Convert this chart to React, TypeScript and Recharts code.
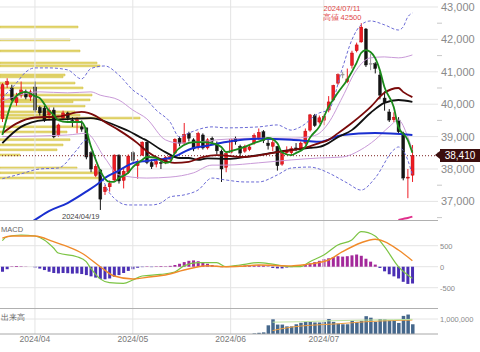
import React from 'react';
import { ComposedChart, BarChart, Bar, Line, XAxis, YAxis, CartesianGrid, ReferenceLine, Cell } from 'recharts';

// trading days shown: index 0 = 2024/03/21 ... index 88 = 2024/07/29, then 5 empty slots
const SLOTS = 94;
const monthTicks = [7, 28, 49, 69];
const monthLabels = ['2024/04', '2024/05', '2024/06', '2024/07'];

const opens = [
  39550, 40600, 40500, 40050, 40280, 40380, 40220, 40530, 39900, 39880,
  39670, 39820, 39050, 39575, 39730, 39500, 39450, 39300, 39270, 38500,
  37800, 37970, 37300, 37450, 37660, 38430, 37650, 37900, 38500, 38100,
  38430, 38830, 38200, 38150, 38200, 38200, 38300, 38490, 38950, 38800,
  39100, 38900, 38680, 39050, 38650, 38950, 38750, 38550, 38050, 38500,
  38950, 38700, 38550, 38600, 38800, 38960, 39150, 38800, 38700, 38700,
  38150, 38500, 38500, 38650, 38600, 38800, 39200, 39650, 39450, 39500,
  39820, 40130, 40650, 40930, 40700, 41200, 41650, 41920, 42320, 41260,
  41250, 40900, 40190, 39760, 39520, 39510, 39110, 37720, 37810,
];
const highs = [
  40650, 40800, 40600, 40350, 40700, 40450, 40450, 40700, 39950, 39950,
  39900, 39900, 39400, 39800, 39770, 39600, 39600, 39500, 39270, 38550,
  38150, 38000, 37500, 37650, 38450, 38450, 38000, 38450, 38550, 38300,
  38850, 38850, 38300, 38350, 38300, 38400, 38450, 38950, 39000, 39420,
  39150, 38950, 39150, 39100, 38950, 39000, 38850, 38600, 38550, 38950,
  39000, 38750, 38750, 38750, 39100, 39250, 39200, 38900, 38900, 38700,
  38500, 38700, 38700, 38800, 38850, 39250, 39700, 39700, 39650, 39700,
  40250, 40600, 40950, 41000, 41100, 41650, 41900, 42500, 42350, 41550,
  41300, 41000, 40400, 39850, 39750, 39600, 39150, 38000, 38740,
];
const lows = [
  39450, 40500, 40100, 39950, 40200, 40150, 40100, 39750, 39650, 39450,
  39500, 38950, 39000, 39500, 39500, 39300, 39100, 39150, 38300, 37900,
  37750, 36735, 37200, 37300, 37600, 37550, 37400, 37850, 38150, 37700,
  38400, 38150, 38000, 38050, 38000, 38150, 38200, 38450, 38700, 38750,
  38850, 38550, 38600, 38600, 38600, 38750, 38450, 37600, 37900, 38450,
  38750, 38400, 38500, 38550, 38750, 38900, 38800, 38600, 38550, 37950,
  38100, 38450, 38400, 38550, 38550, 38750, 39150, 39300, 39400, 39350,
  39750, 40100, 40600, 40800, 40650, 41100, 41600, 41900, 41150, 41050,
  40950, 40150, 39800, 39450, 39450, 39100, 37650, 37100, 37600,
];
const closes = [
  40600, 40700, 40150, 40200, 40440, 40220, 40380, 39820, 39730, 39510,
  39820, 38990, 39360, 39730, 39580, 39440, 39520, 39230, 38370, 38000,
  38080, 37070, 37440, 37550, 38430, 37630, 37930, 38400, 38270, 38240,
  38830, 38200, 38070, 38230, 38180, 38360, 38390, 38920, 38790, 39070,
  38950, 38620, 39100, 38650, 38900, 38860, 38560, 38000, 38480, 38920,
  38840, 38490, 38700, 38680, 39040, 39130, 38880, 38720, 38810, 38100,
  38480, 38570, 38630, 38600, 38800, 39170, 39670, 39340, 39580, 39630,
  40070, 40580, 40910, 40930, 40780, 41580, 41830, 42380, 41210, 41260,
  41100, 40280, 40050, 39510, 39600, 39150, 37720, 37750, 38410,
];

// moving averages and bands as [day index, price]
const ma5Pts = [[0, 39050], [1, 39600], [2, 40040], [4, 40350], [5, 40380], [7, 40250], [8, 40190], [10, 39800], [11, 39670], [12, 39510], [14, 39450], [17, 39450], [18, 39200], [19, 38700], [20, 38300], [21, 37950], [23, 37600], [24, 37600], [25, 37720], [27, 37880], [28, 38060], [30, 38280], [31, 38370], [33, 38340], [35, 38190], [36, 38220], [37, 38490], [39, 38740], [41, 38830], [43, 38830], [45, 38800], [47, 38680], [48, 38520], [50, 38590], [52, 38680], [54, 38800], [56, 38900], [57, 38960], [59, 38800], [60, 38520], [62, 38430], [63, 38490], [65, 38680], [66, 38960], [68, 39300], [70, 39910], [72, 40350], [74, 40750], [76, 41270], [77, 41580], [78, 41670], [79, 41610], [80, 41430], [81, 41060], [82, 40530], [84, 39910], [85, 39300], [87, 38900], [88, 38500]];
const ma25Pts = [[0, 39100], [3, 39400], [7, 39590], [12, 39620], [17, 39760], [20, 39640], [22, 39450], [25, 39200], [29, 38800], [31, 38550], [34, 38300], [37, 38190], [40, 38220], [43, 38370], [46, 38430], [52, 38370], [59, 38520], [66, 38700], [68, 38800], [70, 38900], [72, 39100], [75, 39420], [79, 39910], [82, 40350], [85, 40500], [86, 40380], [88, 40220]];
const ma13Pts = [[0, 38800], [4, 39300], [9, 39510], [14, 39540], [19, 39570], [23, 39420], [25, 39300], [27, 39180], [30, 38950], [31, 38880], [34, 38600], [35, 38520], [38, 38340], [40, 38340], [42, 38280], [44, 38330], [48, 38310], [55, 38430], [62, 38590], [66, 38650], [68, 38680], [70, 38800], [72, 38980], [75, 39200], [79, 39730], [82, 40040], [85, 40130], [88, 40070]];
const ma75Pts = [[5, 36250], [7, 36430], [10, 36700], [14, 36950], [18, 37300], [21, 37600], [22, 37720], [25, 37950], [28, 38180], [31, 38250], [34, 38300], [36, 38340], [41, 38650], [44, 38720], [48, 38830], [55, 38930], [62, 38900], [66, 38860], [68, 38840], [73, 39050], [80, 39110], [88, 39050]];
const bbUp2Pts = [[0, 40200], [3, 40650], [5, 40990], [7, 41120], [10, 41120], [14, 41060], [17, 40780], [19, 41100], [22, 41180], [25, 40900], [28, 40440], [31, 40130], [33, 39820], [36, 39450], [38, 38990], [40, 39110], [45, 39300], [48, 39270], [55, 39300], [59, 39360], [62, 39200], [64, 39300], [68, 39730], [70, 39820], [73, 41120], [75, 41980], [77, 42450], [79, 42570], [82, 42450], [85, 42290], [86, 42380], [87, 42690], [88, 42815]];
const bbLo2Pts = [[0, 37700], [4, 37850], [8, 38000], [12, 38030], [16, 38590], [18, 38900], [19, 38700], [21, 37900], [23, 37260], [27, 36890], [32, 36890], [34, 36950], [36, 37140], [39, 37200], [42, 37350], [45, 37720], [48, 37660], [52, 37600], [55, 37600], [59, 37815], [62, 38030], [66, 38060], [68, 38000], [70, 37880], [74, 37570], [77, 37350], [80, 37720], [84, 38590], [85, 38680], [87, 38280], [88, 37815]];
const bbUp1Pts = [[0, 40100], [8, 40380], [14, 40350], [19, 40380], [21, 40280], [25, 40130], [28, 39820], [31, 39550], [35, 38900], [38, 38800], [42, 38830], [46, 38900], [55, 38950], [62, 38950], [66, 39000], [68, 39100], [70, 39420], [73, 40220], [76, 41060], [79, 41430], [82, 41460], [85, 41430], [88, 41520]];
const bbLo1Pts = [[0, 39000], [14, 39050], [18, 39100], [22, 38340], [25, 37820], [31, 37720], [36, 37750], [41, 37880], [45, 38120], [48, 38120], [55, 38190], [62, 38280], [68, 38340], [73, 38370], [77, 38600], [80, 38900], [83, 39300], [85, 39510], [87, 39000], [88, 38590]];
const sarPts = [[85, 36430], [86, 36460], [87, 36490], [88, 36530]];

// volume by price (left side histogram): price level, width in px-equivalent volume
const vbpPrices = [42380, 41980, 41640, 41270, 41180, 40900, 40840, 40650, 40500, 40280, 40130, 40070, 39940, 39760, 39660, 39570, 39300, 39140, 38900, 38740, 38590, 38430, 38030, 37880, 37720];
const vbpVolumes = [78, 70, 80, 97, 100, 65, 63, 75, 83, 92, 90, 73, 85, 75, 80, 140, 83, 67, 70, 63, 57, 20, 77, 100, 100];

// MACD panel
const histValues = [
  -120, -60, 10, 15, 10, 5, 0, -20, -45, -80,
  -120, -150, -160, -150, -155, -165, -160, -175, -200, -230,
  -260, -290, -300, -280, -240, -200, -150, -100, -60, -25,
  -10, 10, -10, 10, 15, 10, 20, 40, 70, 110,
  140, 150, 130, 100, 70, 40, 20, -10, 10, 15,
  20, 25, 30, 25, 30, 35, 30, 10, -30, -40,
  -40, -20, -10, 5, 20, 40, 80, 110, 140, 180,
  200, 230, 250, 240, 250, 270, 290, 260, 190, 120,
  50, -30, -110, -180, -230, -280, -360, -410, -400,
];
const macdPts = [[0, 620], [1, 714], [4, 755], [7, 731], [9, 636], [11, 445], [12, 326], [16, 238], [18, 119], [19, -40], [21, -290], [23, -381], [26, -397], [28, -317], [30, -221], [34, -183], [37, -127], [39, 20], [42, 95], [46, 95], [48, 0], [51, 40], [55, 95], [58, 60], [62, 0], [64, 0], [66, 119], [69, 278], [72, 516], [75, 636], [77, 833], [80, 731], [82, 476], [85, 0], [88, -278]];
const signalPts = [[0, 680], [2, 731], [7, 731], [11, 595], [14, 476], [17, 326], [21, 0], [24, -222], [28, -293], [32, -238], [35, -198], [39, -79], [44, 24], [48, 0], [51, 10], [55, 40], [62, 20], [65, 50], [70, 159], [73, 357], [77, 571], [80, 652], [82, 595], [85, 397], [88, 143]];

// volume panel (only the last weeks carry volume)
const volStart = 54;
const volValues = [
  40000, 80000, 110000, 580000, 980000, 630000, 630000, 510000, 510000, 650000,
  750000, 810000, 810000, 770000, 770000, 810000, 1000000, 810000, 700000, 650000,
  650000, 880000, 810000, 880000, 1190000, 1090000, 810000, 1000000, 980000, 930000,
  930000, 740000, 1210000, 1300000, 650000,
];
const volMaPts = [[58, 230000], [62, 460000], [66, 580000], [72, 680000], [78, 820000], [84, 900000], [88, 930000]];
const volMa2Pts = [[58, 790000], [64, 820000], [70, 880000], [78, 930000], [84, 950000], [88, 980000]];

const pts = (p: number[][]) => p.map(([i, v]) => ({ i, v }));

const rows = Array.from({ length: SLOTS }, (_, i) => {
  const row: any = { i };
  if (i < closes.length) {
    row.o = opens[i]; row.h = highs[i]; row.l = lows[i]; row.c = closes[i];
    row.range = [lows[i], highs[i]];
    row.hist = histValues[i];
  }
  if (i >= volStart && i - volStart < volValues.length) row.vol = volValues[i - volStart];
  return row;
});

const vbpRows = vbpPrices.map((p, k) => ({ price: p, v: vbpVolumes[k] }));

const PRICE_MIN = 36395;
const PRICE_MAX = 43216;
const W = 480;
const PLOT_W = 438;
const FONT = '"Liberation Sans", Arial, sans-serif';

const Candle = (props: any) => {
  const { x, y, width, height, payload } = props;
  if (!payload || payload.o == null) return null;
  const { o, h, l, c } = payload;
  const top = height < 0 ? y + height : y;
  const span = Math.abs(height);
  const ppu = span / (h - l || 1);
  const py = (v: number) => top + (h - v) * ppu;
  const color = c > o ? '#ee1c24' : c < o ? '#141414' : '#9a9a9a';
  const edge = c > o ? '#b00000' : color;
  const cx = x + width / 2;
  const bTop = py(Math.max(o, c));
  const bH = Math.max(1, Math.abs(o - c) * ppu);
  return (
    <g>
      <line x1={cx} x2={cx} y1={top} y2={top + span} stroke={color} strokeWidth={1} />
      <rect x={x} y={bTop} width={width} height={bH} fill={color} stroke={edge} strokeWidth={0.4} />
    </g>
  );
};

const PriceTick = (props: any) => {
  const { y, payload } = props;
  const v = payload.value;
  if (v % 1000 !== 0) return <line x1={437} x2={442} y1={y} y2={y} stroke="#c8c8c8" />;
  return (
    <text x={441} y={y} dy={4} fontSize={11} fill="#8a8a8a" fontFamily={FONT}>
      {v.toLocaleString('en-US')}
    </text>
  );
};

const SmallTick = (props: any) => {
  const { y, payload } = props;
  return (
    <text x={440} y={y} dy={3} fontSize={7.5} fill="#8a8a8a" fontFamily={FONT}>
      {payload.value.toLocaleString('en-US')}
    </text>
  );
};

// y is inside the volume panel's own svg (which starts at page y 309)
const DateTick = (props: any) => {
  const { x, payload } = props;
  return (
    <text x={x} y={33} textAnchor="middle" fontSize={8.5} fill="#777" fontFamily={FONT}>
      {monthLabels[monthTicks.indexOf(payload.value)] ?? ''}
    </text>
  );
};

const monthLines = (stroke: string) =>
  monthTicks.map((t) => <ReferenceLine key={t} x={t} stroke={stroke} strokeWidth={1} />);

const line = (key: string, data: number[][], stroke: string, width: number, dash?: string) => (
  <Line
    key={key}
    data={pts(data)}
    dataKey="v"
    stroke={stroke}
    strokeWidth={width}
    strokeDasharray={dash}
    dot={false}
    activeDot={false}
    type="monotone"
    isAnimationActive={false}
  />
);

export default function App() {
  return (
    <div style={{ position: 'absolute', left: 0, top: 0, width: W, height: 352, background: '#fff', fontFamily: FONT }}>
      {/* volume-by-price histogram behind the candles */}
      <div style={{ position: 'absolute', left: 0, top: 0 }}>
        <BarChart layout="vertical" width={PLOT_W} height={221} data={vbpRows} margin={{ top: 0, right: 0, bottom: 0, left: 0 }}>
          <XAxis type="number" domain={[0, PLOT_W]} hide />
          <YAxis type="number" dataKey="price" domain={[PRICE_MIN, PRICE_MAX]} hide reversed />
          <Bar dataKey="v" fill="#e6d873" stroke="#d3c245" strokeWidth={0.6} barSize={2.5} isAnimationActive={false} />
        </BarChart>
      </div>

      {/* price panel */}
      <div style={{ position: 'absolute', left: 0, top: 0 }}>
        <ComposedChart width={W} height={221} data={rows} margin={{ top: 0, right: 0, bottom: 0, left: 0 }}>
          <CartesianGrid vertical={false} stroke="#e4e4e4" horizontalValues={[37000, 38000, 39000, 40000, 41000, 42000, 43000]} />
          <XAxis dataKey="i" type="category" allowDuplicatedCategory={false} hide />
          <YAxis
            orientation="right"
            width={42}
            domain={[PRICE_MIN, PRICE_MAX]}
            allowDataOverflow
            ticks={[36500, 37000, 37500, 38000, 38500, 39000, 39500, 40000, 40500, 41000, 41500, 42000, 42500, 43000]}
            tick={<PriceTick />}
            tickLine={false}
            axisLine={false}
            interval={0}
          />
          {monthLines('#e4e4e4')}
          <ReferenceLine y={38410} stroke="#7a2020" strokeDasharray="1 2" strokeWidth={1} />
          {line('bbUp2', bbUp2Pts, '#6b6bd6', 1, '3 2')}
          {line('bbLo2', bbLo2Pts, '#6b6bd6', 1, '3 2')}
          {line('bbUp1', bbUp1Pts, '#c99ad8', 1)}
          {line('bbLo1', bbLo1Pts, '#c99ad8', 1)}
          {line('ma75', ma75Pts, '#1a2fd0', 2)}
          {line('ma13', ma13Pts, '#111111', 1.8)}
          {line('ma25', ma25Pts, '#7a0a0a', 1.8)}
          <Bar dataKey="range" barSize={3} shape={<Candle />} isAnimationActive={false} />
          {line('ma5', ma5Pts, '#1b8a1b', 1.8)}
          {line('sar', sarPts, '#e0308c', 2)}
        </ComposedChart>
      </div>

      {/* MACD panel */}
      <div style={{ position: 'absolute', left: 0, top: 221 }}>
        <ComposedChart width={W} height={88} data={rows} margin={{ top: 0, right: 0, bottom: 0, left: 0 }}>
          <CartesianGrid vertical={false} stroke="#e4e4e4" horizontalValues={[-500, 0, 500]} />
          <XAxis dataKey="i" type="category" allowDuplicatedCategory={false} hide />
          <YAxis orientation="right" width={42} domain={[-1007, 1088]} ticks={[-500, 0, 500]} tick={<SmallTick />} tickLine={false} axisLine={false} interval={0} />
          {monthLines('#e4e4e4')}
          <Bar dataKey="hist" barSize={3} isAnimationActive={false}>
            {rows.map((r) => (
              <Cell key={r.i} fill={(r.hist ?? 0) >= 0 ? '#a3289a' : '#4a2fb4'} />
            ))}
          </Bar>
          {line('macd', macdPts, '#7cc444', 1.2)}
          {line('signal', signalPts, '#f08a2a', 1.4)}
        </ComposedChart>
      </div>

      {/* volume panel with date axis */}
      <div style={{ position: 'absolute', left: 0, top: 309 }}>
        <ComposedChart width={W} height={43} data={rows} margin={{ top: 0, right: 0, bottom: 0, left: 0 }}>
          <CartesianGrid vertical={false} stroke="#e4e4e4" horizontalValues={[1000000]} />
          <XAxis
            dataKey="i"
            type="category"
            allowDuplicatedCategory={false}
            ticks={monthTicks}
            interval={0}
            tick={<DateTick />}
            tickLine={false}
            axisLine={{ stroke: '#a8a8a8' }}
            height={18}
          />
          <YAxis orientation="right" width={42} domain={[0, 1670000]} ticks={[1000000]} tick={<SmallTick />} tickLine={false} axisLine={false} interval={0} />
          {monthLines('#e4e4e4')}
          <Bar dataKey="vol" barSize={3.5} fill="#46688c" isAnimationActive={false} />
          {line('volMa', volMaPts, '#f0a040', 1)}
          {line('volMa2', volMa2Pts, '#bfe3a0', 1)}
        </ComposedChart>
      </div>

      {/* panel borders */}
      <div style={{ position: 'absolute', left: 0, top: 220, width: PLOT_W, height: 0, borderTop: '1px solid #b0b0b0' }} />
      <div style={{ position: 'absolute', left: 0, top: 308, width: PLOT_W, height: 0, borderTop: '1px solid #b0b0b0' }} />

      {/* annotations */}
      <div style={{ position: 'absolute', left: 318, top: 4, width: 48, fontSize: 7.5, lineHeight: '9px', color: '#e04848', textAlign: 'center', whiteSpace: 'nowrap' }}>
        2024/07/11<br />高値 42500
      </div>
      <div style={{ position: 'absolute', left: 62, top: 212, fontSize: 7.5, color: '#444' }}>2024/04/19</div>
      <div style={{ position: 'absolute', left: 1, top: 225, fontSize: 7.5, color: '#666' }}>MACD</div>
      <div style={{ position: 'absolute', left: 1, top: 313, fontSize: 7.5, color: '#666' }}>出来高</div>
      <div style={{ position: 'absolute', left: 440, top: 149, width: 40, height: 13, background: '#3c0e0e', color: '#fff', fontSize: 10, lineHeight: '13px', textAlign: 'center' }}>
        38,410
      </div>
      <div style={{ position: 'absolute', left: 435, top: 151, width: 0, height: 0, borderTop: '4.5px solid transparent', borderBottom: '4.5px solid transparent', borderRight: '5px solid #3c0e0e' }} />
    </div>
  );
}
